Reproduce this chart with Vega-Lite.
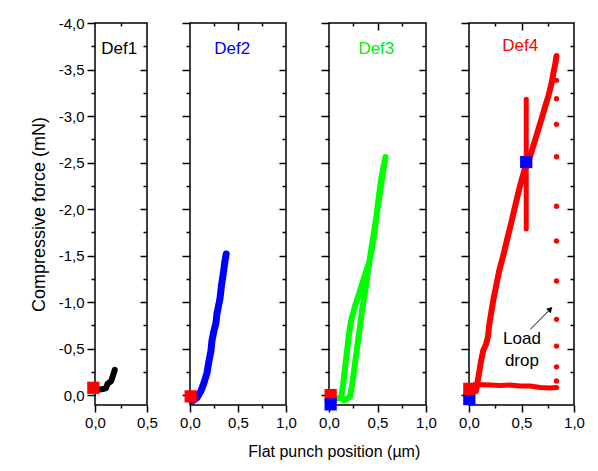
{
"$schema": "https://vega.github.io/schema/vega-lite/v6.json",
"background": "white",
"padding": {"left": 29, "top": 15, "right": 4, "bottom": 6},
"title": {"text": "Flat punch position (µm)", "orient": "bottom", "anchor": "middle", "fontSize": 16, "fontWeight": "normal", "font": "Liberation Sans", "color": "black", "dx": 27, "offset": 13},
"spacing": 19,
"datasets": {
"def1": [{"i":0,"x":0.045,"y":-0.06},{"i":1,"x":0.08,"y":-0.065},{"i":2,"x":0.106,"y":-0.075},{"i":3,"x":0.12,"y":-0.12},{"i":4,"x":0.155,"y":-0.15},{"i":5,"x":0.17,"y":-0.2},{"i":6,"x":0.19,"y":-0.27}],
"def2": [{"i":0,"x":0.021,"y":0.065},{"i":1,"x":0.073,"y":0.03},{"i":2,"x":0.114,"y":-0.043},{"i":3,"x":0.145,"y":-0.129},{"i":4,"x":0.177,"y":-0.237},{"i":5,"x":0.197,"y":-0.366},{"i":6,"x":0.218,"y":-0.473},{"i":7,"x":0.228,"y":-0.58},{"i":8,"x":0.249,"y":-0.688},{"i":9,"x":0.27,"y":-0.774},{"i":10,"x":0.28,"y":-0.871},{"i":11,"x":0.301,"y":-0.978},{"i":12,"x":0.312,"y":-1.032},{"i":13,"x":0.327,"y":-1.172},{"i":14,"x":0.343,"y":-1.28},{"i":15,"x":0.353,"y":-1.355},{"i":16,"x":0.364,"y":-1.441},{"i":17,"x":0.377,"y":-1.516}],
"def3": [{"i":0,"x":0.031,"y":0.043},{"i":1,"x":0.124,"y":0.032},{"i":2,"x":0.144,"y":-0.097},{"i":3,"x":0.165,"y":-0.29},{"i":4,"x":0.186,"y":-0.473},{"i":5,"x":0.206,"y":-0.656},{"i":6,"x":0.227,"y":-0.796},{"i":7,"x":0.268,"y":-0.957},{"i":8,"x":0.309,"y":-1.086},{"i":9,"x":0.351,"y":-1.226},{"i":10,"x":0.412,"y":-1.419},{"i":11,"x":0.443,"y":-1.57},{"i":12,"x":0.474,"y":-1.785},{"i":13,"x":0.495,"y":-1.978},{"i":14,"x":0.515,"y":-2.14},{"i":15,"x":0.536,"y":-2.301},{"i":16,"x":0.557,"y":-2.43},{"i":17,"x":0.582,"y":-2.559},{"i":18,"x":0.567,"y":-2.462},{"i":19,"x":0.536,"y":-2.247},{"i":20,"x":0.505,"y":-2.032},{"i":21,"x":0.474,"y":-1.817},{"i":22,"x":0.433,"y":-1.548},{"i":23,"x":0.402,"y":-1.333},{"i":24,"x":0.381,"y":-1.172},{"i":25,"x":0.361,"y":-1.043},{"i":26,"x":0.34,"y":-0.903},{"i":27,"x":0.32,"y":-0.742},{"i":28,"x":0.299,"y":-0.581},{"i":29,"x":0.278,"y":-0.419},{"i":30,"x":0.258,"y":-0.258},{"i":31,"x":0.237,"y":-0.1},{"i":32,"x":0.216,"y":0.022},{"i":33,"x":0.155,"y":0.054}],
"def4rise": [{"i":0,"x":0.067,"y":-0.043},{"i":1,"x":0.077,"y":-0.108},{"i":2,"x":0.096,"y":-0.237},{"i":3,"x":0.115,"y":-0.366},{"i":4,"x":0.134,"y":-0.473},{"i":5,"x":0.163,"y":-0.548},{"i":6,"x":0.182,"y":-0.634},{"i":7,"x":0.191,"y":-0.742},{"i":8,"x":0.211,"y":-0.882},{"i":9,"x":0.23,"y":-1.011},{"i":10,"x":0.258,"y":-1.172},{"i":11,"x":0.287,"y":-1.333},{"i":12,"x":0.325,"y":-1.495},{"i":13,"x":0.364,"y":-1.677},{"i":14,"x":0.402,"y":-1.849},{"i":15,"x":0.44,"y":-2.032},{"i":16,"x":0.469,"y":-2.172},{"i":17,"x":0.498,"y":-2.301},{"i":18,"x":0.526,"y":-2.409},{"i":19,"x":0.555,"y":-2.484},{"i":20,"x":0.584,"y":-2.57},{"i":21,"x":0.612,"y":-2.677},{"i":22,"x":0.641,"y":-2.785},{"i":23,"x":0.67,"y":-2.892},{"i":24,"x":0.699,"y":-3.0},{"i":25,"x":0.727,"y":-3.108},{"i":26,"x":0.756,"y":-3.215},{"i":27,"x":0.785,"y":-3.344},{"i":28,"x":0.804,"y":-3.462},{"i":29,"x":0.823,"y":-3.57},{"i":30,"x":0.833,"y":-3.645}],
"def4spike": [{"i":0,"x":0.545,"y":-3.18},{"i":1,"x":0.545,"y":-1.785}],
"def4flat": [{"i":0,"x":0.057,"y":-0.113},{"i":1,"x":0.201,"y":-0.108},{"i":2,"x":0.297,"y":-0.102},{"i":3,"x":0.392,"y":-0.108},{"i":4,"x":0.488,"y":-0.097},{"i":5,"x":0.584,"y":-0.097},{"i":6,"x":0.679,"y":-0.081},{"i":7,"x":0.775,"y":-0.075},{"i":8,"x":0.835,"y":-0.081}],
"def4dots": [{"x":0.833,"y":-3.384},{"x":0.833,"y":-3.186},{"x":0.833,"y":-2.911},{"x":0.833,"y":-2.562},{"x":0.833,"y":-2.03},{"x":0.833,"y":-1.656},{"x":0.833,"y":-1.226},{"x":0.833,"y":-0.814},{"x":0.833,"y":-0.527},{"x":0.833,"y":-0.304},{"x":0.833,"y":-0.151}],
"sq1": [{"x":-0.016,"y":-0.078,"c":"red"}],
"sq2": [{"x":0.007,"y":0.014,"c":"red"}],
"sq3": [{"x":0.017,"y":0.0,"c":"red"},{"x":0.017,"y":0.1,"c":"blue"}],
"sq4": [{"x":0.003,"y":0.043,"c":"blue"},{"x":0.003,"y":-0.067,"c":"red"},{"x":0.545,"y":-2.505,"c":"blue"}],
"lab1": [{"x":0.232,"y":-3.72,"t":"Def1"}],
"lab2": [{"x":0.44,"y":-3.72,"t":"Def2"}],
"lab3": [{"x":0.488,"y":-3.72,"t":"Def3"}],
"lab4": [{"x":0.488,"y":-3.75,"t":"Def4"}],
"note": [{"x":0.504,"y":-0.598,"t":"Load"},{"x":0.504,"y":-0.366,"t":"drop"}],
"arrow": [{"x":0.584,"y":-0.706,"x2":0.77,"y2":-0.919}],
"head": [{"x":0.775,"y":-0.925}]
},
"hconcat": [
{
"width": 52, "height": 382,
"layer": [
{"data": {"name": "def1"}, "mark": {"type": "line", "color": "black", "strokeWidth": 6, "strokeCap": "round", "strokeJoin": "round"},
 "encoding": {
  "x": {"field": "x", "type": "quantitative", "scale": {"domain": [0, 0.5], "nice": false, "zero": false},
        "axis": {"orient": "bottom", "title": null, "values": [0, 0.25, 0.5], "labelExpr": "abs(datum.value*2-round(datum.value*2))<0.01 ? replace(format(abs(datum.value),'.1f'),'.',',') : ''", "tickSize": {"condition": {"test": "abs(datum.value*2-round(datum.value*2))<0.01", "value": 7}, "value": 3}}},
  "y": {"field": "y", "type": "quantitative", "scale": {"domain": [-4, 0.107], "reverse": true, "nice": false, "zero": false},
        "axis": {"orient": "left", "title": "Compressive force (mN)", "titleFontSize": 18, "values": [0,-0.25,-0.5,-0.75,-1,-1.25,-1.5,-1.75,-2,-2.25,-2.5,-2.75,-3,-3.25,-3.5,-3.75,-4], "labelExpr": "abs(datum.value*2-round(datum.value*2))<0.01 ? (datum.value < -0.001 ? '-' : '') + replace(format(abs(datum.value),'.1f'),'.',',') : ''", "tickSize": {"condition": {"test": "abs(datum.value*2-round(datum.value*2))<0.01", "value": 8}, "value": 4}}},
  "order": {"field": "i", "type": "quantitative"}
 }},
{"data": {"name": "sq1"}, "mark": {"type": "square", "filled": true, "opacity": 1, "size": 150},
 "encoding": {"x": {"field": "x", "type": "quantitative", "axis": null}, "y": {"field": "y", "type": "quantitative", "axis": null}, "color": {"field": "c", "type": "nominal", "scale": null}}},
{"data": {"name": "lab1"}, "mark": {"type": "text", "fontSize": 17, "font": "Liberation Sans", "color": "black"},
 "encoding": {"x": {"field": "x", "type": "quantitative", "axis": null}, "y": {"field": "y", "type": "quantitative", "axis": null}, "text": {"field": "t"}}},
{"data": {"name": "def1"}, "mark": {"type": "point", "opacity": 0},
 "encoding": {
  "x": {"field": "x", "type": "quantitative", "axis": {"orient": "top", "title": null, "labels": false, "values": [0.25], "tickSize": -3}},
  "y": {"field": "y", "type": "quantitative", "axis": {"orient": "right", "title": null, "labels": false, "values": [-0.25,-0.5,-0.75,-1,-1.25,-1.5,-1.75,-2,-2.25,-2.5,-2.75,-3,-3.25,-3.5,-3.75], "tickSize": {"condition": {"test": "abs(datum.value*2-round(datum.value*2))<0.01", "value": -7}, "value": -4}}}
 }}
],
"resolve": {"axis": {"x": "independent", "y": "independent"}}
},
{
"width": 96, "height": 382,
"layer": [
{"data": {"name": "def2"}, "mark": {"type": "line", "color": "#0000ff", "strokeWidth": 7, "strokeCap": "round", "strokeJoin": "round"},
 "encoding": {
  "x": {"field": "x", "type": "quantitative", "scale": {"domain": [0, 1], "nice": false, "zero": false},
        "axis": {"orient": "bottom", "title": null, "values": [0, 0.25, 0.5, 0.75, 1], "labelExpr": "abs(datum.value*2-round(datum.value*2))<0.01 ? replace(format(abs(datum.value),'.1f'),'.',',') : ''", "tickSize": {"condition": {"test": "abs(datum.value*2-round(datum.value*2))<0.01", "value": 7}, "value": 3}}},
  "y": {"field": "y", "type": "quantitative", "scale": {"domain": [-4, 0.107], "reverse": true, "nice": false, "zero": false},
        "axis": {"orient": "left", "title": null, "labels": false, "values": [0,-0.25,-0.5,-0.75,-1,-1.25,-1.5,-1.75,-2,-2.25,-2.5,-2.75,-3,-3.25,-3.5,-3.75,-4], "tickSize": {"condition": {"test": "abs(datum.value*2-round(datum.value*2))<0.01", "value": 8}, "value": 4}}},
  "order": {"field": "i", "type": "quantitative"}
 }},
{"data": {"name": "sq2"}, "mark": {"type": "square", "filled": true, "opacity": 1, "size": 150},
 "encoding": {"x": {"field": "x", "type": "quantitative", "axis": null}, "y": {"field": "y", "type": "quantitative", "axis": null}, "color": {"field": "c", "type": "nominal", "scale": null}}},
{"data": {"name": "lab2"}, "mark": {"type": "text", "fontSize": 17, "font": "Liberation Sans", "color": "#0000ff"},
 "encoding": {"x": {"field": "x", "type": "quantitative", "axis": null}, "y": {"field": "y", "type": "quantitative", "axis": null}, "text": {"field": "t"}}},
{"data": {"name": "def2"}, "mark": {"type": "point", "opacity": 0},
 "encoding": {
  "x": {"field": "x", "type": "quantitative", "axis": {"orient": "top", "title": null, "labels": false, "values": [0.25, 0.5, 0.75], "tickSize": {"condition": {"test": "abs(datum.value*2-round(datum.value*2))<0.01", "value": -7}, "value": -3}}},
  "y": {"field": "y", "type": "quantitative", "axis": {"orient": "right", "title": null, "labels": false, "values": [-0.25,-0.5,-0.75,-1,-1.25,-1.5,-1.75,-2,-2.25,-2.5,-2.75,-3,-3.25,-3.5,-3.75], "tickSize": {"condition": {"test": "abs(datum.value*2-round(datum.value*2))<0.01", "value": -7}, "value": -4}}}
 }}
],
"resolve": {"axis": {"x": "independent", "y": "independent"}}
},
{
"width": 97, "height": 382,
"layer": [
{"data": {"name": "def3"}, "mark": {"type": "line", "color": "#00ff00", "strokeWidth": 6, "strokeCap": "round", "strokeJoin": "round"},
 "encoding": {
  "x": {"field": "x", "type": "quantitative", "scale": {"domain": [0, 1], "nice": false, "zero": false},
        "axis": {"orient": "bottom", "title": null, "values": [0, 0.25, 0.5, 0.75, 1], "labelExpr": "abs(datum.value*2-round(datum.value*2))<0.01 ? replace(format(abs(datum.value),'.1f'),'.',',') : ''", "tickSize": {"condition": {"test": "abs(datum.value*2-round(datum.value*2))<0.01", "value": 7}, "value": 3}}},
  "y": {"field": "y", "type": "quantitative", "scale": {"domain": [-4, 0.107], "reverse": true, "nice": false, "zero": false},
        "axis": {"orient": "left", "title": null, "labels": false, "values": [0,-0.25,-0.5,-0.75,-1,-1.25,-1.5,-1.75,-2,-2.25,-2.5,-2.75,-3,-3.25,-3.5,-3.75,-4], "tickSize": {"condition": {"test": "abs(datum.value*2-round(datum.value*2))<0.01", "value": 8}, "value": 4}}},
  "order": {"field": "i", "type": "quantitative"}
 }},
{"data": {"name": "sq3"}, "mark": {"type": "square", "filled": true, "opacity": 1, "size": 150},
 "encoding": {"x": {"field": "x", "type": "quantitative", "axis": null}, "y": {"field": "y", "type": "quantitative", "axis": null}, "color": {"field": "c", "type": "nominal", "scale": null}}},
{"data": {"name": "lab3"}, "mark": {"type": "text", "fontSize": 17, "font": "Liberation Sans", "color": "#00ee00"},
 "encoding": {"x": {"field": "x", "type": "quantitative", "axis": null}, "y": {"field": "y", "type": "quantitative", "axis": null}, "text": {"field": "t"}}},
{"data": {"name": "def3"}, "mark": {"type": "point", "opacity": 0},
 "encoding": {
  "x": {"field": "x", "type": "quantitative", "axis": {"orient": "top", "title": null, "labels": false, "values": [0.25, 0.5, 0.75], "tickSize": {"condition": {"test": "abs(datum.value*2-round(datum.value*2))<0.01", "value": -7}, "value": -3}}},
  "y": {"field": "y", "type": "quantitative", "axis": {"orient": "right", "title": null, "labels": false, "values": [-0.25,-0.5,-0.75,-1,-1.25,-1.5,-1.75,-2,-2.25,-2.5,-2.75,-3,-3.25,-3.5,-3.75], "tickSize": {"condition": {"test": "abs(datum.value*2-round(datum.value*2))<0.01", "value": -7}, "value": -4}}}
 }}
],
"resolve": {"axis": {"x": "independent", "y": "independent"}}
},
{
"width": 105, "height": 382,
"layer": [
{"data": {"name": "def4rise"}, "mark": {"type": "line", "color": "#ff0000", "strokeWidth": 6, "strokeCap": "round", "strokeJoin": "round"},
 "encoding": {
  "x": {"field": "x", "type": "quantitative", "scale": {"domain": [0, 1], "nice": false, "zero": false},
        "axis": {"orient": "bottom", "title": null, "values": [0, 0.25, 0.5, 0.75, 1], "labelExpr": "abs(datum.value*2-round(datum.value*2))<0.01 ? replace(format(abs(datum.value),'.1f'),'.',',') : ''", "tickSize": {"condition": {"test": "abs(datum.value*2-round(datum.value*2))<0.01", "value": 7}, "value": 3}}},
  "y": {"field": "y", "type": "quantitative", "scale": {"domain": [-4, 0.107], "reverse": true, "nice": false, "zero": false},
        "axis": {"orient": "left", "title": null, "labels": false, "values": [0,-0.25,-0.5,-0.75,-1,-1.25,-1.5,-1.75,-2,-2.25,-2.5,-2.75,-3,-3.25,-3.5,-3.75,-4], "tickSize": {"condition": {"test": "abs(datum.value*2-round(datum.value*2))<0.01", "value": 8}, "value": 4}}},
  "order": {"field": "i", "type": "quantitative"}
 }},
{"data": {"name": "def4spike"}, "mark": {"type": "line", "color": "#ff0000", "strokeWidth": 5, "strokeCap": "round"},
 "encoding": {"x": {"field": "x", "type": "quantitative", "axis": null}, "y": {"field": "y", "type": "quantitative", "axis": null}, "order": {"field": "i", "type": "quantitative"}}},
{"data": {"name": "def4flat"}, "mark": {"type": "line", "color": "#ff0000", "strokeWidth": 5, "strokeCap": "round", "strokeJoin": "round"},
 "encoding": {"x": {"field": "x", "type": "quantitative", "axis": null}, "y": {"field": "y", "type": "quantitative", "axis": null}, "order": {"field": "i", "type": "quantitative"}}},
{"data": {"name": "def4dots"}, "mark": {"type": "circle", "color": "#ff0000", "opacity": 1, "size": 28},
 "encoding": {"x": {"field": "x", "type": "quantitative", "axis": null}, "y": {"field": "y", "type": "quantitative", "axis": null}}},
{"data": {"name": "sq4"}, "mark": {"type": "square", "filled": true, "opacity": 1, "size": 150},
 "encoding": {"x": {"field": "x", "type": "quantitative", "axis": null}, "y": {"field": "y", "type": "quantitative", "axis": null}, "color": {"field": "c", "type": "nominal", "scale": null}}},
{"data": {"name": "lab4"}, "mark": {"type": "text", "fontSize": 17, "font": "Liberation Sans", "color": "#ff0000"},
 "encoding": {"x": {"field": "x", "type": "quantitative", "axis": null}, "y": {"field": "y", "type": "quantitative", "axis": null}, "text": {"field": "t"}}},
{"data": {"name": "note"}, "mark": {"type": "text", "fontSize": 17, "font": "Liberation Sans", "color": "black"},
 "encoding": {"x": {"field": "x", "type": "quantitative", "axis": null}, "y": {"field": "y", "type": "quantitative", "axis": null}, "text": {"field": "t"}}},
{"data": {"name": "arrow"}, "mark": {"type": "rule", "color": "black", "strokeWidth": 1},
 "encoding": {"x": {"field": "x", "type": "quantitative", "axis": null}, "y": {"field": "y", "type": "quantitative", "axis": null}, "x2": {"field": "x2"}, "y2": {"field": "y2"}}},
{"data": {"name": "head"}, "mark": {"type": "point", "shape": "triangle-up", "angle": 45, "filled": true, "color": "black", "opacity": 1, "size": 40},
 "encoding": {"x": {"field": "x", "type": "quantitative", "axis": null}, "y": {"field": "y", "type": "quantitative", "axis": null}}},
{"data": {"name": "def4rise"}, "mark": {"type": "point", "opacity": 0},
 "encoding": {
  "x": {"field": "x", "type": "quantitative", "axis": {"orient": "top", "title": null, "labels": false, "values": [0.25, 0.5, 0.75], "tickSize": {"condition": {"test": "abs(datum.value*2-round(datum.value*2))<0.01", "value": -7}, "value": -3}}},
  "y": {"field": "y", "type": "quantitative", "axis": {"orient": "right", "title": null, "labels": false, "values": [-0.25,-0.5,-0.75,-1,-1.25,-1.5,-1.75,-2,-2.25,-2.5,-2.75,-3,-3.25,-3.5,-3.75], "tickSize": {"condition": {"test": "abs(datum.value*2-round(datum.value*2))<0.01", "value": -7}, "value": -4}}}
 }}
],
"resolve": {"axis": {"x": "independent", "y": "independent"}}
}
],
"config": {
 "view": {"stroke": "black", "strokeWidth": 1.5},
 "axis": {"domain": false, "grid": false, "tickColor": "black", "tickWidth": 1.5, "labelFont": "Liberation Sans", "labelFontSize": 15, "labelColor": "black", "labelFlush": false, "labelOverlap": false, "labelPadding": 3, "titleFont": "Liberation Sans", "titleFontSize": 16, "titleFontWeight": "normal", "titleColor": "black", "titlePadding": 10}
}
}
